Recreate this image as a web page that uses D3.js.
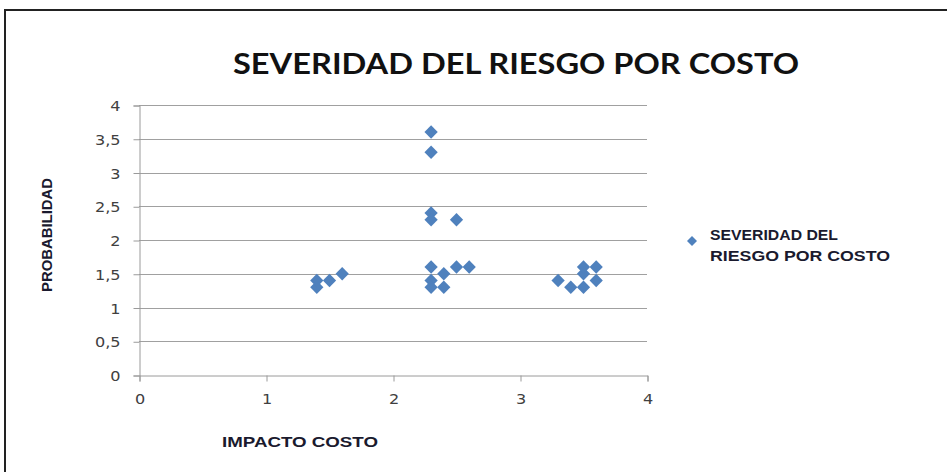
<!DOCTYPE html>
<html>
<head>
<meta charset="utf-8">
<script src="https://cdn.jsdelivr.net/npm/d3@7"></script>
<style>
  html, body { margin: 0; padding: 0; background: #fff; }
  svg { display: block; }
</style>
</head>
<body>
<svg id="chart" width="947" height="472"></svg>
<script>
// Impacto (costo) vs probabilidad de cada riesgo
const impactoCosto = [1.4, 1.4, 1.5, 1.6,
  2.3, 2.3, 2.3, 2.3, 2.5, 2.3, 2.4, 2.5, 2.6, 2.3, 2.3, 2.4,
  3.3, 3.4, 3.5, 3.5, 3.5, 3.6, 3.6];
const probabilidad = [1.3, 1.4, 1.4, 1.5,
  3.6, 3.3, 2.4, 2.3, 2.3, 1.6, 1.5, 1.6, 1.6, 1.4, 1.3, 1.3,
  1.4, 1.3, 1.3, 1.5, 1.6, 1.6, 1.4];
const xTicks = [0, 1, 2, 3, 4];
const yTicks = [0, 0.5, 1, 1.5, 2, 2.5, 3, 3.5, 4];
const titulo = "SEVERIDAD DEL RIESGO POR COSTO";
const serie = ["SEVERIDAD DEL", "RIESGO POR COSTO"];

const svg = d3.select("#chart");
const color = "#4F81BD";
const tickFont = "Verdana, 'DejaVu Sans', sans-serif";
const labelFont = "'Liberation Sans', Arial, sans-serif";

// chart frame (right and bottom edges fall outside the view)
svg.append("rect")
  .attr("x", 5).attr("y", 10)
  .attr("width", 960).attr("height", 480)
  .attr("fill", "#fff").attr("stroke", "#222").attr("stroke-width", 2);

const x = d3.scaleLinear().domain([0, 4]).range([139, 647]);
const y = d3.scaleLinear().domain([0, 4]).range([375, 105]);

// horizontal gridlines
svg.append("g").selectAll("line")
  .data(yTicks.filter(d => d > 0))
  .join("line")
  .attr("x1", x(0)).attr("x2", x(4))
  .attr("y1", d => Math.round(y(d)) + 0.5).attr("y2", d => Math.round(y(d)) + 0.5)
  .attr("stroke", "#a0a0a0").attr("stroke-width", 1);

// axes
const fmt = d => String(d).replace(".", ",");
const stretch = 1.15;
const yAxis = svg.append("g")
  .attr("transform", `translate(${x(0) + 0.5},0.5)`)
  .call(d3.axisLeft(y).tickValues(yTicks).tickFormat(fmt).tickSize(6));
const xAxis = svg.append("g")
  .attr("transform", `translate(0.5,${y(0) + 0.5})`)
  .call(d3.axisBottom(x).tickValues(xTicks).tickFormat(fmt).tickSize(6));
[yAxis, xAxis].forEach(g => {
  g.select(".domain").attr("stroke", "#9a9a9a");
  g.selectAll(".tick line").attr("stroke", "#9a9a9a");
  g.selectAll(".tick text").attr("fill", "#404040")
    .style("font-family", tickFont).style("font-size", "14px")
    .attr("transform", `scale(${stretch},1)`);
});
yAxis.selectAll(".tick text").attr("x", -19 / stretch).attr("dy", "0.36em");
xAxis.selectAll(".tick text").attr("y", 19).attr("dy", "0.71em");

// points
const diamond = d3.symbol().type(d3.symbolSquare).size(88);
svg.append("g").selectAll("path")
  .data(impactoCosto.map((v, i) => [v, probabilidad[i]]))
  .join("path")
  .attr("d", diamond)
  .attr("transform", d => `translate(${x(d[0])},${y(d[1])}) rotate(45)`)
  .attr("fill", color);

// title
svg.append("text")
  .attr("x", 516).attr("y", 74)
  .attr("text-anchor", "middle")
  .attr("textLength", 566).attr("lengthAdjust", "spacingAndGlyphs")
  .style("font-family", "Lato, 'Open Sans', sans-serif")
  .style("font-weight", "bold").style("font-size", "28px")
  .attr("fill", "#111")
  .text(titulo);

// axis titles
svg.append("text")
  .attr("transform", "translate(52,235) rotate(-90)")
  .attr("text-anchor", "middle")
  .attr("textLength", 114).attr("lengthAdjust", "spacingAndGlyphs")
  .style("font-family", labelFont).style("font-weight", "bold").style("font-size", "15px")
  .attr("fill", "#1a1a2e")
  .text("PROBABILIDAD");

svg.append("text")
  .attr("x", 222).attr("y", 447)
  .attr("textLength", 156).attr("lengthAdjust", "spacingAndGlyphs")
  .style("font-family", labelFont).style("font-weight", "bold").style("font-size", "15px")
  .attr("fill", "#1a1a2e")
  .text("IMPACTO COSTO");

// legend
const leg = svg.append("g");
leg.append("path")
  .attr("d", d3.symbol().type(d3.symbolSquare).size(50))
  .attr("transform", "translate(692,241) rotate(45)")
  .attr("fill", color);
leg.selectAll("text").data(serie).join("text")
  .attr("x", 710).attr("y", (d, i) => 240 + i * 21)
  .attr("textLength", (d, i) => [128, 180][i]).attr("lengthAdjust", "spacingAndGlyphs")
  .style("font-family", labelFont).style("font-weight", "bold").style("font-size", "15px")
  .attr("fill", "#1a1a2e")
  .text(d => d);
</script>
</body>
</html>
